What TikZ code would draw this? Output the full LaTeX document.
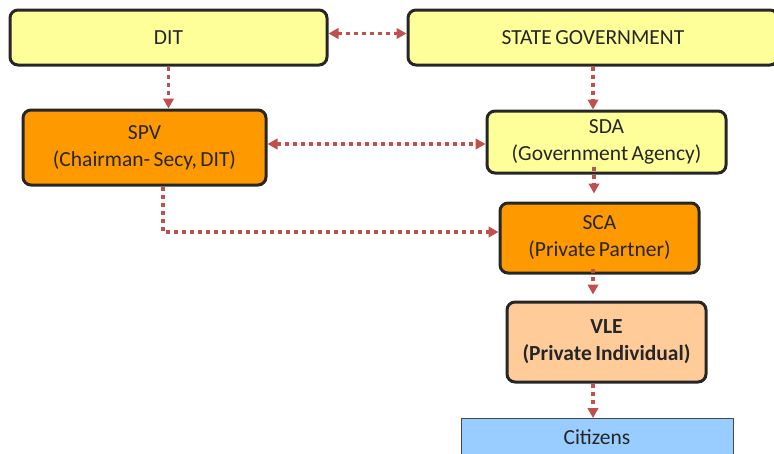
\documentclass[tikz,border=0pt]{standalone}
\usepackage{fontspec}
\setmainfont[WordSpace=0.7]{Carlito}
\usetikzlibrary{arrows.meta}
\definecolor{boxyellow}{HTML}{FFFF99}
\definecolor{boxorange}{HTML}{FF9900}
\definecolor{boxpeach}{HTML}{FFCC99}
\definecolor{boxblue}{HTML}{99CCFF}
\definecolor{arrowred}{HTML}{C0504D}
\definecolor{edgedark}{HTML}{262626}
\tikzset{
  orgbox/.style={draw=edgedark, line width=3pt, rounded corners=8pt, align=center,
    text=edgedark, inner sep=0pt, font=\fontsize{21.5}{27}\selectfont},
  flowline/.style={draw=arrowred, line width=3.3pt, dash pattern=on 4pt off 4pt,
    -{Triangle[length=10pt,width=10.5pt]}},
  flowboth/.style={flowline, {Triangle[length=10pt,width=10.5pt]}-{Triangle[length=10pt,width=10.5pt]}},
}
\begin{document}
\begin{tikzpicture}[x=1pt,y=-1pt]
\useasboundingbox (0,0) rectangle (774,453);
\clip (0,0) rectangle (774,453);
% boxes
\node[orgbox, fill=boxyellow, minimum width=317pt, minimum height=55pt] (dit) at (168.5,37.5) {DIT};
\node[orgbox, fill=boxyellow, minimum width=370pt, minimum height=55pt] (state) at (593,37.5) {STATE GOVERNMENT};
\node[orgbox, fill=boxorange, minimum width=243pt, minimum height=75pt] (spv) at (144.5,147.5) {SPV\\(Chairman- Secy, DIT)};
\node[orgbox, fill=boxyellow, minimum width=239pt, minimum height=62pt] (sda) at (606.5,142) {SDA\\(Government Agency)};
\node[orgbox, fill=boxorange, minimum width=199pt, minimum height=70pt] (sca) at (599.5,238) {SCA\\(Private Partner)};
\node[orgbox, fill=boxpeach, minimum width=199pt, minimum height=80pt, font=\fontsize{21.5}{27}\selectfont\bfseries] (vle) at (606.5,342) {VLE\\(Private Individual)};
\node[draw=edgedark!85, line width=1pt, fill=boxblue, minimum width=272pt, minimum height=50pt,
  anchor=north, inner sep=0pt] (cit) at (597,418) {};
\node[text=edgedark, font=\fontsize{21.5}{27}\selectfont, inner sep=0pt] (citlabel) at (597,437) {Citizens};
% connectors
\draw[flowboth] ([yshift=4pt]dit.east) -- ([yshift=4pt]dit.east -| state.west);
\draw[flowline] (dit.south) -- (dit.south |- spv.north);
\draw[flowline] (state.south) -- (state.south |- sda.north);
\draw[flowboth] ([yshift=3.5pt]spv.east) -- ([yshift=3.5pt]spv.east -| sda.west);
\draw[flowline] ([xshift=-12.5pt,yshift=8pt]sda.south) -- ([xshift=-12.5pt,yshift=8pt]sda.south |- sca.north);
\draw[flowline] ([xshift=18.5pt]spv.south) |- ([yshift=6pt]sca.west);
\draw[flowline] ([xshift=-6.5pt,yshift=6pt]sca.south) -- ([xshift=-6.5pt,yshift=6pt]sca.south |- vle.north);
\draw[flowline] ([xshift=-13.5pt]vle.south) -- ([xshift=-13.5pt]vle.south |- cit.north);
\end{tikzpicture}
\end{document}
